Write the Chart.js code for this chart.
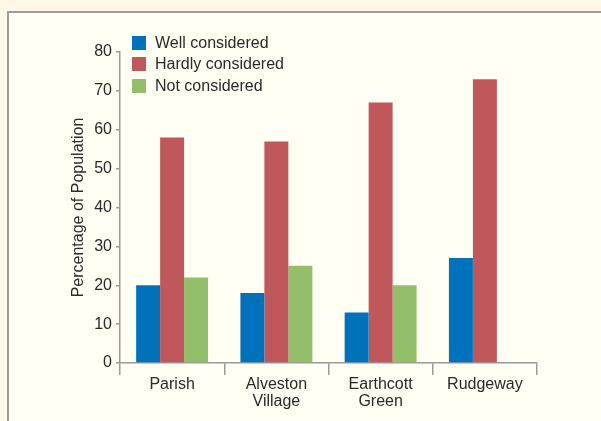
<!DOCTYPE html>
<html>
<head>
<meta charset="utf-8">
<script src="https://cdn.jsdelivr.net/npm/chart.js@4"></script>
<style>
    html, body { margin: 0; padding: 0; background: #fff8e8; }
    #wrap { position: relative; width: 601px; height: 421px; overflow: hidden; }
    #panel {
        position: absolute; left: 7px; top: 11px; right: 0; bottom: 0;
        border-left: 2px solid #9c9c98; border-top: 2px solid #9c9c98;
        background: #fffff3;
    }
    #chart { position: absolute; left: 0; top: 0; }
    #legend {
        position: absolute; left: 132px; top: 32px;
        font-family: "Liberation Sans", Arial, sans-serif; font-size: 16px; color: #2a2a2a;
    }
    #legend div { height: 21.5px; display: flex; align-items: center; }
    #legend span.box { width: 14px; height: 14px; margin-right: 9px; display: inline-block; }
</style>
</head>
<body>
<div id="wrap">
    <div id="panel"></div>
    <canvas id="chart" width="601" height="421"></canvas>
    <div id="legend"></div>
</div>
<script>
const categories = [["Parish"], ["Alveston", "Village"], ["Earthcott", "Green"], ["Rudgeway"]];
const seriesNames = ["Well considered", "Hardly considered", "Not considered"];
const wellConsidered = [20, 18, 13, 27];
const hardlyConsidered = [58, 57, 67, 73];
const notConsidered = [22, 25, 20, null];
const colors = ["#0072bc", "#c0575a", "#93bf6b"];
const yTicks = [0, 10, 20, 30, 40, 50, 60, 70, 80];

const axisColor = "#9a9a9a";
const textColor = "#2a2a2a";
const fontFamily = '"Liberation Sans", Arial, sans-serif';

const values = [wellConsidered, hardlyConsidered, notConsidered];

new Chart(document.getElementById("chart"), {
    type: "bar",
    data: {
        labels: categories,
        datasets: seriesNames.map((name, i) => ({
            label: name,
            data: values[i],
            backgroundColor: colors[i],
            borderWidth: 0,
            categoryPercentage: 0.69,
            barPercentage: 1.0
        }))
    },
    options: {
        responsive: false,
        animation: false,
        layout: { padding: { left: 0, top: 52, right: 64, bottom: 0 } },
        plugins: {
            legend: { display: false },
            tooltip: { enabled: false }
        },
        scales: {
            x: {
                offset: true,
                border: { color: axisColor, width: 1.5 },
                grid: {
                    offset: true,
                    drawOnChartArea: false,
                    color: axisColor,
                    lineWidth: 1.5,
                    tickLength: 12
                },
                ticks: {
                    color: textColor,
                    padding: 1,
                    maxRotation: 0,
                    font: { family: fontFamily, size: 16, lineHeight: 1.05 }
                },
                afterFit: (scale) => { scale.height = 58; }
            },
            y: {
                min: 0,
                max: 80,
                afterBuildTicks: (scale) => { scale.ticks = yTicks.map(v => ({ value: v })); },
                border: { color: axisColor, width: 1.5 },
                grid: {
                    drawOnChartArea: false,
                    color: axisColor,
                    lineWidth: 1.5,
                    tickLength: 4
                },
                ticks: {
                    color: textColor,
                    padding: 4,
                    font: { family: fontFamily, size: 16 }
                },
                title: {
                    display: true,
                    text: "Percentage of Population",
                    color: textColor,
                    padding: { top: 69, bottom: 0 },
                    font: { family: fontFamily, size: 16 }
                },
                afterFit: (scale) => { scale.width = 120; }
            }
        }
    }
});

// legend drawn as html text in the top-left of the plot
const legendEl = document.getElementById("legend");
seriesNames.forEach((name, i) => {
    const row = document.createElement("div");
    row.innerHTML = `<span class="box" style="background:${colors[i]}"></span>${name}`;
    legendEl.appendChild(row);
});
</script>
</body>
</html>
